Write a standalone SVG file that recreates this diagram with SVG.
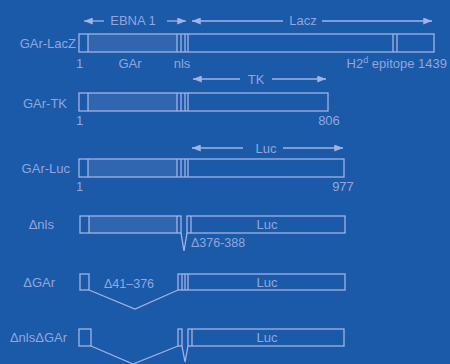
<svg xmlns="http://www.w3.org/2000/svg" width="450" height="364" viewBox="0 0 450 364">
<defs>
<style>
.bg{fill:#1a5aa9}
.ln{stroke:#a3b3e3;stroke-width:1.3;fill:none}
.sh{fill:#3066b0;stroke:none}
.t{font-family:"Liberation Sans",Arial,sans-serif;font-size:13px;fill:#93a6dc}
.s{font-size:12.5px}
.m{text-anchor:middle}
.e{text-anchor:end}
</style>
<marker id="ah" viewBox="0 0 10 8" refX="10" refY="4" markerWidth="10" markerHeight="7" markerUnits="userSpaceOnUse" orient="auto-start-reverse">
<path d="M0,0 L10,4 L0,8 Z" fill="#a3b3e3"/>
</marker>
</defs>
<rect class="bg" x="0" y="0" width="450" height="364"/>

<g id="connectors">
<line class="ln" x1="84" y1="21" x2="104" y2="21" marker-start="url(#ah)"/>
<line class="ln" x1="167" y1="21" x2="186" y2="21" marker-end="url(#ah)"/>
<line class="ln" x1="192" y1="21" x2="283" y2="21" marker-start="url(#ah)"/>
<line class="ln" x1="322" y1="21" x2="432" y2="21" marker-end="url(#ah)"/>
<line class="ln" x1="193" y1="79" x2="240" y2="79" marker-start="url(#ah)"/>
<line class="ln" x1="272" y1="79" x2="326" y2="79" marker-end="url(#ah)"/>
<line class="ln" x1="192" y1="148" x2="243" y2="148" marker-start="url(#ah)"/>
<line class="ln" x1="283" y1="148" x2="343" y2="148" marker-end="url(#ah)"/>
<text class="t m" x="133" y="25">EBNA 1</text>
<text class="t m" x="303" y="25">Lacz</text>
<text class="t m" x="256" y="84">TK</text>
<text class="t m" x="266" y="153">Luc</text>
</g>

<g id="gar-lacz">
<rect class="sh" x="88" y="34" width="89" height="18"/>
<rect class="ln" x="79" y="34" width="355" height="18"/>
<line class="ln" x1="88" y1="34" x2="88" y2="52"/>
<line class="ln" x1="177" y1="34" x2="177" y2="52"/>
<line class="ln" x1="181" y1="34" x2="181" y2="52"/>
<line class="ln" x1="185" y1="34" x2="185" y2="52"/>
<line class="ln" x1="188" y1="34" x2="188" y2="52"/>
<line class="ln" x1="393" y1="34" x2="393" y2="52"/>
<line class="ln" x1="397" y1="34" x2="397" y2="52"/>
<text class="t e" x="76" y="48">GAr-LacZ</text>
<text class="t" x="76" y="68">1</text>
<text class="t m" x="130" y="68">GAr</text>
<text class="t m" x="182" y="68">nls</text>
<text class="t e" x="447" y="68">H2<tspan font-size="9" dy="-5">d</tspan><tspan dy="5"> epitope 1439</tspan></text>
</g>

<g id="gar-tk">
<rect class="sh" x="88" y="93" width="89" height="18"/>
<rect class="ln" x="79" y="93" width="249" height="18"/>
<line class="ln" x1="88" y1="93" x2="88" y2="111"/>
<line class="ln" x1="177" y1="93" x2="177" y2="111"/>
<line class="ln" x1="181" y1="93" x2="181" y2="111"/>
<line class="ln" x1="185" y1="93" x2="185" y2="111"/>
<line class="ln" x1="188" y1="93" x2="188" y2="111"/>
<text class="t e" x="67" y="108">GAr-TK</text>
<text class="t" x="76" y="125">1</text>
<text class="t m" x="329" y="125">806</text>
</g>

<g id="gar-luc">
<rect class="sh" x="88" y="159" width="89" height="18"/>
<rect class="ln" x="79" y="159" width="265" height="18"/>
<line class="ln" x1="88" y1="159" x2="88" y2="177"/>
<line class="ln" x1="177" y1="159" x2="177" y2="177"/>
<line class="ln" x1="181" y1="159" x2="181" y2="177"/>
<line class="ln" x1="185" y1="159" x2="185" y2="177"/>
<line class="ln" x1="188" y1="159" x2="188" y2="177"/>
<text class="t e" x="70" y="173">GAr-Luc</text>
<text class="t" x="76" y="191">1</text>
<text class="t m" x="343" y="191">977</text>
</g>

<g id="delta-nls">
<rect class="sh" x="89" y="216" width="88" height="17"/>
<rect class="ln" x="80" y="216" width="101" height="17"/>
<line class="ln" x1="89" y1="216" x2="89" y2="233"/>
<line class="ln" x1="177" y1="216" x2="177" y2="233"/>
<polyline class="ln" points="181,233 184,251 187,233"/>
<rect class="ln" x="187" y="216" width="158" height="17"/>
<line class="ln" x1="191" y1="216" x2="191" y2="233"/>
<text class="t e" x="54" y="229">Δnls</text>
<text class="t m" x="267" y="229">Luc</text>
<text class="t s" x="191" y="247">Δ376-388</text>
</g>

<g id="delta-gar">
<rect class="ln" x="80" y="274" width="9" height="16"/>
<polyline class="ln" points="89,290 135,309 178,290"/>
<rect class="ln" x="178" y="274" width="167" height="16"/>
<line class="ln" x1="182" y1="274" x2="182" y2="290"/>
<line class="ln" x1="185" y1="274" x2="185" y2="290"/>
<line class="ln" x1="188" y1="274" x2="188" y2="290"/>
<text class="t e" x="55" y="287">ΔGAr</text>
<text class="t s" x="104" y="288">Δ41–376</text>
<text class="t m" x="267" y="287">Luc</text>
</g>

<g id="delta-nls-delta-gar">
<rect class="ln" x="79" y="329" width="12" height="17"/>
<polyline class="ln" points="91,346 133,364 178,346"/>
<rect class="ln" x="178" y="329" width="4" height="17"/>
<polyline class="ln" points="182,346 185,362 188,346"/>
<rect class="ln" x="188" y="329" width="156" height="17"/>
<line class="ln" x1="192" y1="329" x2="192" y2="346"/>
<text class="t e" x="67" y="342">ΔnlsΔGAr</text>
<text class="t m" x="267" y="342">Luc</text>
</g>
</svg>
